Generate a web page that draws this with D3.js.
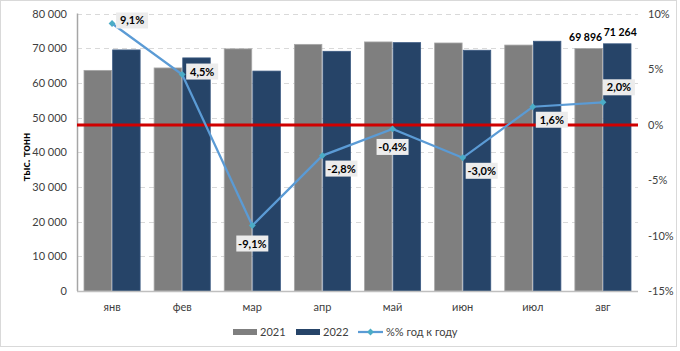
<!DOCTYPE html>
<html>
<head>
<meta charset="utf-8">
<script src="https://cdn.jsdelivr.net/npm/d3@7"></script>
<style>
  body { margin: 0; background: #fff; }
  svg { font-family: Lato, "Liberation Sans", sans-serif; }
</style>
</head>
<body>
<div id="chart"></div>
<script>
var width = 680;
var height = 351;

var months = ["янв", "фев", "мар", "апр", "май", "июн", "июл", "авг"];
var years = ["2021", "2022"];
var values2021 = [63600, 64300, 69800, 71100, 71800, 71500, 70900, 69896];
var values2022 = [69500, 67200, 63400, 69100, 71600, 69400, 72000, 71264];
var yoy = [9.1, 4.5, -9.1, -2.8, -0.4, -3.0, 1.6, 2.0];
var leftTicks = [0, 10000, 20000, 30000, 40000, 50000, 60000, 70000, 80000];
var rightTicks = [-15, -10, -5, 0, 5, 10];
// where each percent label sits relative to its point
var labelPlace = ["right", "right", "below", "belowright", "below", "belowright", "belowright", "aboveright"];

var colors = { "2021": "#7f7f7f", "2022": "#264468" };

var plot = { left: 77, right: 638, top: 13.5, bottom: 291 };

var svg = d3.select("#chart").append("svg")
    .attr("width", width)
    .attr("height", height);

svg.append("rect")
    .attr("x", 0.5).attr("y", 0.5)
    .attr("width", 676).attr("height", 346)
    .attr("fill", "#fff")
    .style("stroke", "#d9d9d9");

var x0 = d3.scaleBand().domain(months).range([plot.left, plot.right]);
var x1 = d3.scaleBand().domain(years).range([7, x0.bandwidth() - 7]).paddingInner(0.04);
var y = d3.scaleLinear().domain([0, 80000]).range([plot.bottom, plot.top]);
var yr = d3.scaleLinear().domain([-15, 10]).range([plot.bottom, plot.top]);

var fmt = function(v) { return d3.format(",")(v).replace(/,/g, " "); };
var fmtPct = function(v) { return d3.format(".1f")(v).replace(".", ",").replace("\u2212", "-") + "%"; };

// grid
svg.append("g").selectAll("line")
    .data(leftTicks.filter(function(d) { return d > 0; }))
    .enter().append("line")
    .attr("x1", plot.left).attr("x2", plot.right)
    .attr("y1", function(d) { return Math.round(y(d)) + 0.5; })
    .attr("y2", function(d) { return Math.round(y(d)) + 0.5; })
    .style("stroke", "#d9d9d9")
    .style("stroke-dasharray", "5,4");

// bars
var rows = months.map(function(m, i) {
    return { month: m, "2021": values2021[i], "2022": values2022[i] };
});

var groups = svg.append("g").selectAll("g")
    .data(rows)
    .enter().append("g")
    .attr("transform", function(d) { return "translate(" + x0(d.month) + ",0)"; });

groups.selectAll("rect")
    .data(function(d) { return years.map(function(k) { return { key: k, value: d[k] }; }); })
    .enter().append("rect")
    .attr("x", function(d) { return x1(d.key); })
    .attr("y", function(d) { return y(d.value); })
    .attr("width", x1.bandwidth())
    .attr("height", function(d) { return plot.bottom - y(d.value); })
    .attr("fill", function(d) { return colors[d.key]; })
    .style("stroke", function(d) { return d.key == "2021" ? "#a6a6a6" : "#3b5a82"; })
    .style("stroke-width", "0.8px");

// value labels on last month
var last = months.length - 1;
years.forEach(function(k, j) {
    var v = j == 0 ? values2021[last] : values2022[last];
    svg.append("text")
        .attr("x", x0(months[last]) + x1(k) + x1.bandwidth() / 2 + (j == 0 ? -3 : 3))
        .attr("y", y(v) - 8)
        .text(fmt(v))
        .style("text-anchor", "middle")
        .style("font-weight", "bold")
        .style("font-size", "10.5px")
        .style("fill", "#000");
});

// axes lines
svg.append("line")
    .attr("x1", plot.left + 0.5).attr("x2", plot.left + 0.5)
    .attr("y1", plot.top).attr("y2", plot.bottom)
    .style("stroke", "#a6a6a6").style("stroke-width", "1.5px");
svg.append("line")
    .attr("x1", plot.left).attr("x2", plot.right)
    .attr("y1", plot.bottom + 0.5).attr("y2", plot.bottom + 0.5)
    .style("stroke", "#bfbfbf").style("stroke-width", "1.5px");

// zero line on the percent axis
svg.append("line")
    .attr("x1", plot.left).attr("x2", plot.right)
    .attr("y1", Math.round(yr(0))).attr("y2", Math.round(yr(0)))
    .style("stroke", "#d00000")
    .style("stroke-width", "3px");

// left ticks
svg.append("g").selectAll("text")
    .data(leftTicks)
    .enter().append("text")
    .attr("x", 67)
    .attr("y", function(d) { return y(d) + 4; })
    .text(fmt)
    .style("text-anchor", "end")
    .style("font-size", "11px")
    .style("fill", "#404040");

// right ticks
svg.append("g").selectAll("text")
    .data(rightTicks)
    .enter().append("text")
    .attr("x", 648)
    .attr("y", function(d) { return yr(d) + 4; })
    .text(function(d) { return d + "%"; })
    .style("font-size", "11px")
    .style("fill", "#404040");

// month labels
svg.append("g").selectAll("text")
    .data(months)
    .enter().append("text")
    .attr("x", function(d) { return x0(d) + x0.bandwidth() / 2; })
    .attr("y", 311)
    .text(function(d) { return d; })
    .style("text-anchor", "middle")
    .style("font-size", "11px")
    .style("fill", "#404040");

// axis title
svg.append("text")
    .attr("transform", "translate(30,157) rotate(-90)")
    .text("тыс. тонн")
    .style("text-anchor", "middle")
    .style("font-weight", "bold")
    .style("font-size", "11px")
    .style("fill", "#000");

// percent line
var pts = months.map(function(m, i) {
    return { month: m, v: yoy[i], place: labelPlace[i] };
});
var line = d3.line()
    .x(function(d) { return x0(d.month) + x0.bandwidth() / 2; })
    .y(function(d) { return yr(d.v); });

svg.append("path")
    .datum(pts)
    .attr("d", line)
    .attr("fill", "none")
    .style("stroke", "#5b9bd5")
    .style("stroke-width", "2.25px");

svg.append("g").selectAll("path")
    .data(pts)
    .enter().append("path")
    .attr("d", d3.symbol().type(d3.symbolDiamond2).size(30))
    .attr("transform", function(d) {
        return "translate(" + (x0(d.month) + x0.bandwidth() / 2) + "," + yr(d.v) + ")";
    })
    .attr("fill", "#4bacc6");

var offsets = {
    right: [20, -3],
    below: [0, 18],
    belowright: [19, 13],
    aboveright: [16, -15]
};

var lab = svg.append("g").selectAll("g")
    .data(pts)
    .enter().append("g")
    .attr("transform", function(d) {
        var o = offsets[d.place];
        return "translate(" + (x0(d.month) + x0.bandwidth() / 2 + o[0]) + "," + (yr(d.v) + o[1]) + ")";
    });

lab.append("rect")
    .attr("x", -16).attr("y", -8)
    .attr("width", 32).attr("height", 16)
    .attr("fill", "#ececec");

lab.append("text")
    .attr("y", 4)
    .text(function(d) { return fmtPct(d.v); })
    .style("text-anchor", "middle")
    .style("font-weight", "bold")
    .style("font-size", "11px")
    .style("fill", "#000");

// legend
var legend = svg.append("g").attr("transform", "translate(0,332)");
years.forEach(function(k, j) {
    var lx = j == 0 ? 233 : 296;
    legend.append("rect")
        .attr("x", lx).attr("y", -3)
        .attr("width", 24).attr("height", 6)
        .attr("fill", colors[k]);
    legend.append("text")
        .attr("x", lx + 27).attr("y", 4)
        .text(k)
        .style("font-size", "11px")
        .style("fill", "#404040");
});
legend.append("line")
    .attr("x1", 358).attr("x2", 383)
    .style("stroke", "#5b9bd5").style("stroke-width", "2.25px");
legend.append("path")
    .attr("d", d3.symbol().type(d3.symbolDiamond2).size(30))
    .attr("transform", "translate(370.5,0)")
    .attr("fill", "#4bacc6");
legend.append("text")
    .attr("x", 386).attr("y", 4)
    .text("%% год к году")
    .style("font-size", "11px")
    .style("fill", "#404040");
</script>
</body>
</html>
